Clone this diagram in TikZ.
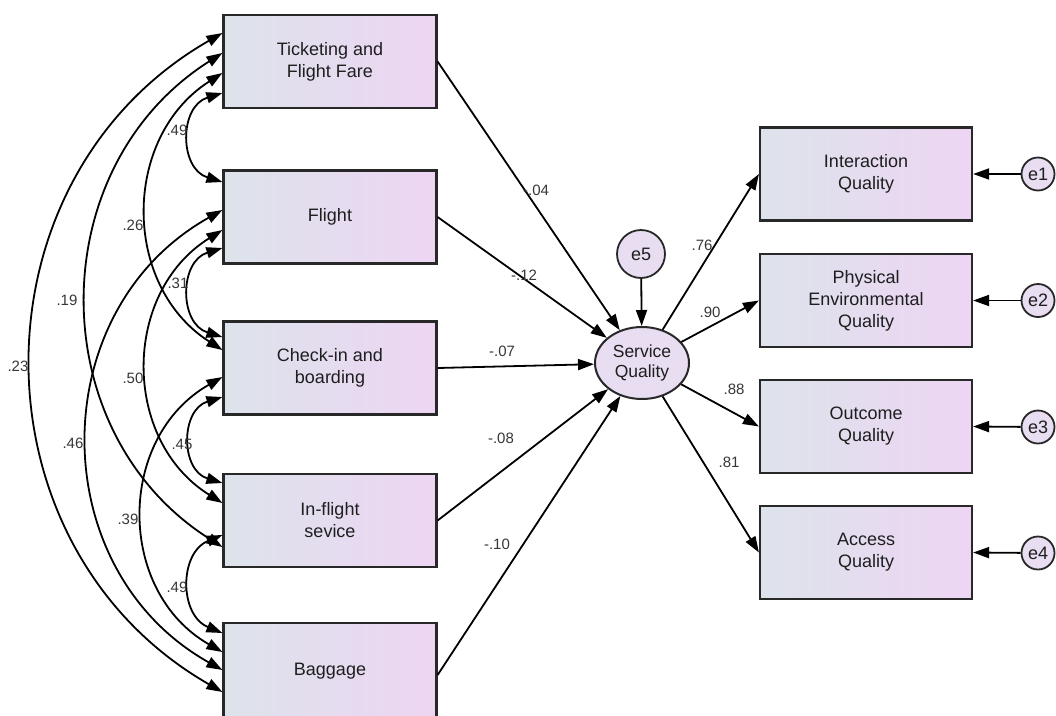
\documentclass[tikz,border=0pt]{standalone}
\usepackage{fontspec}
\setmainfont{Liberation Sans}
\usetikzlibrary{arrows.meta,shapes.geometric}

\definecolor{boxL}{RGB}{221,227,235}
\definecolor{boxR}{RGB}{237,213,243}
\definecolor{latfill}{RGB}{232,221,241}
\definecolor{edgegray}{RGB}{40,40,40}
\definecolor{txt}{RGB}{30,30,30}
\definecolor{coef}{RGB}{55,55,55}

\begin{document}
\begin{tikzpicture}[x=1pt,y=-1pt,
  obs/.style={draw=edgegray, line width=2.2pt, left color=boxL, right color=boxR,
    minimum width=213pt, minimum height=93pt, inner sep=0pt, align=center,
    font=\fontsize{18}{22}\selectfont, text=txt},
  lat/.style={ellipse, draw=edgegray, line width=2pt, fill=latfill,
    minimum width=94pt, minimum height=72pt, inner sep=0pt, align=center,
    font=\fontsize{17.5}{20}\selectfont, text=txt},
  err/.style={circle, draw=edgegray, line width=1.8pt, fill=latfill,
    minimum size=33pt, inner sep=0pt, font=\fontsize{18}{18}\selectfont, text=txt},
  regarrow/.style={draw=black, line width=1.8pt, -{Triangle[length=16pt,width=11pt]}},
  covarrow/.style={draw=black, line width=1.8pt,
    {Triangle[length=16pt,width=11pt]}-{Triangle[length=16pt,width=11pt]}},
  coefl/.style={font=\fontsize{15}{15}\selectfont, text=coef, inner sep=0pt}]

\useasboundingbox (0,0) rectangle (1056,715);
\fill[white] (0,0) rectangle (1056,715);

% exogenous observed variables
\node[obs] (tk) at (330,61.5) {Ticketing and\\Flight Fare};
\node[obs] (fl) at (330,217) {Flight};
\node[obs] (ci) at (330,368) {Check-in and\\boarding};
\node[obs] (inf) at (330,520.5) {In-flight\\sevice};
\node[obs, minimum height=96pt] (bg) at (330,671) {Baggage};

% latent factor and its disturbance
\node[lat] (sq) at (642,363) {Service\\Quality};
\node[err, minimum size=48pt] (e5) at (641,254) {e5};

% indicators with their errors
\node[obs, minimum width=212pt] (iq) at (866,174) {Interaction\\Quality};
\node[obs, minimum width=212pt] (pq) at (866,300.5) {Physical\\Environmental\\Quality};
\node[obs, minimum width=212pt] (oq) at (866,426.5) {Outcome\\Quality};
\node[obs, minimum width=212pt] (aq) at (866,552.5) {Access\\Quality};
\node[err] (e1) at (1038,174) {e1};
\node[err] (e2) at (1038,300.5) {e2};
\node[err] (e3) at (1038,427) {e3};
\node[err] (e4) at (1038,553) {e4};

% covariances between the exogenous variables
\draw[covarrow] ([yshift=-31.5pt]tk.west) .. controls (179,106.3) and (179,168.7) .. ([yshift=35pt]fl.west);
\draw[covarrow] ([yshift=-11.5pt]tk.west) .. controls (121.7,137.5) and (121.7,285.5) .. ([yshift=18pt]ci.west);
\draw[covarrow] ([yshift=8.5pt]tk.west) .. controls (41.7,167.7) and (41.7,432.3) .. ([yshift=-26.5pt]inf.west);
\draw[covarrow] ([yshift=28.5pt]tk.west) .. controls (-31.7,178.8) and (-31.7,546.2) .. ([yshift=-21pt]bg.west);
\draw[covarrow] ([yshift=-31pt]fl.west) .. controls (179,261.3) and (179,323.7) .. ([yshift=31pt]ci.west);
\draw[covarrow] ([yshift=-13pt]fl.west) .. controls (121.7,292.8) and (121.7,440.2) .. ([yshift=17.5pt]inf.west);
\draw[covarrow] ([yshift=7pt]fl.west) .. controls (43,310.5) and (43,569.5) .. ([yshift=1pt]bg.west);
\draw[covarrow] ([yshift=-29pt]ci.west) .. controls (180.3,409.8) and (180.3,470.2) .. ([yshift=37.5pt]inf.west);
\draw[covarrow] ([yshift=-9pt]ci.west) .. controls (116.3,437.6) and (116.3,591.4) .. ([yshift=19pt]bg.west);
\draw[covarrow] ([yshift=-14.5pt]inf.west) .. controls (179,552.9) and (179,615.1) .. ([yshift=38pt]bg.west);

% covariance values
\node[coefl] (c1) at (177,130) {.49};
\node[coefl] (c2) at (133,225) {.26};
\node[coefl] (c3) at (178,283) {.31};
\node[coefl] (c4) at (67,300) {.19};
\node[coefl] (c5) at (18,366) {.23};
\node[coefl] (c6) at (133,378) {.50};
\node[coefl] (c7) at (73,443) {.46};
\node[coefl] (c8) at (182,444) {.45};
\node[coefl] (c9) at (128,519) {.39};
\node[coefl] (c10) at (177,587) {.49};

% structural paths
\draw[regarrow] (tk.east) -- (sq);
\draw[regarrow] (fl.east) -- (sq);
\draw[regarrow] (ci.east) -- (sq);
\draw[regarrow] (inf.east) -- (sq);
\draw[regarrow] ([yshift=-4pt]bg.east) -- (sq);
\draw[regarrow] (e5) -- (sq);

% measurement paths
\draw[regarrow] (sq) -- (iq.west);
\draw[regarrow] (sq) -- (pq.west);
\draw[regarrow] (sq) -- (oq.west);
\draw[regarrow] (sq) -- (aq.west);
\draw[regarrow] (e1) -- (iq.east);
\draw[regarrow] (e2) -- (pq.east);
\draw[regarrow] (e3) -- (oq.east);
\draw[regarrow] (e4) -- (aq.east);

% path coefficients
\node[coefl] (p1) at (536,190) {-.04};
\node[coefl] (p2) at (524,275) {-.12};
\node[coefl] (p3) at (502,351) {-.07};
\node[coefl] (p4) at (501,438) {-.08};
\node[coefl] (p5) at (497,544) {-.10};
\node[coefl] (m1) at (702,245) {.76};
\node[coefl] (m2) at (710,312) {.90};
\node[coefl] (m3) at (734,389) {.88};
\node[coefl] (m4) at (729,462) {.81};

\end{tikzpicture}
\end{document}
